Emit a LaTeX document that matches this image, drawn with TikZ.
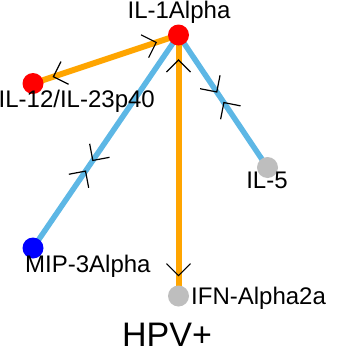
\documentclass[tikz,border=0pt]{standalone}
\usepackage{fontspec}
\setmainfont{Liberation Sans}
\usetikzlibrary{decorations.markings,backgrounds}
\definecolor{edgeorange}{RGB}{255,165,0}
\definecolor{edgeblue}{RGB}{93,183,229}
\definecolor{nodegray}{RGB}{190,190,190}
\tikzset{
  vert/.style={circle, inner sep=0pt, minimum size=21pt, draw=none},
  lab/.style={inner sep=0pt, font=\fontsize{24}{28}\selectfont},
  oedge/.style={draw=edgeorange, line width=6pt},
  bedge/.style={draw=edgeblue, line width=5.5pt},
  chev/.style={draw=black, line width=1.2pt},
  tostart/.style={postaction={decorate}, decoration={markings, mark=at position #1 with {\draw[chev] (12,12) -- (0,0) -- (12,-12);}}},
  toend/.style={postaction={decorate}, decoration={markings, mark=at position #1 with {\draw[chev] (-12,12) -- (0,0) -- (-12,-12);}}}
}
\begin{document}
\begin{tikzpicture}[x=1pt,y=-1pt]
\useasboundingbox (0,0) rectangle (341,351);
% nodes
\node[vert, fill=red] (A) at (178.5,35) {};
\node[vert, fill=red] (B) at (33,83.5) {};
\node[vert, fill=nodegray] (C) at (267.5,167.5) {};
\node[vert, fill=blue] (D) at (33,248) {};
\node[vert, fill=nodegray] (E) at (178.5,296) {};
% labels
\node[lab, anchor=base] (lA) at (179,18.5) {IL-1Alpha};
\node[lab, anchor=base west] (lB) at (-1.5,107) {IL-12/IL-23p40};
\node[lab, anchor=base] (lC) at (267,188.5) {IL-5};
\node[lab, anchor=base west] (lD) at (25,272) {MIP-3Alpha};
\node[lab, anchor=base west] (lE) at (191,304) {IFN-Alpha2a};
\node[inner sep=0pt, text depth=0pt, font=\fontsize{34}{40}\selectfont, anchor=base] (title) at (167,346.5) {HPV+};
% edges
\begin{scope}[on background layer]
  \draw[oedge] (A.center) -- (B.center);
  \draw[oedge] (A.center) -- (E.center);
  \draw[bedge] (A.center) -- (C.center);
  \draw[bedge] (A.center) -- (D.center);
\end{scope}
% arrow marks
\path[tostart=0.153] (A.center) -- (B.center);
\path[toend=0.86] (A.center) -- (B.center);
\path[tostart=0.096] (A.center) -- (E.center);
\path[toend=0.922] (A.center) -- (E.center);
\path[toend=0.43] (A.center) -- (C.center);
\path[tostart=0.51] (A.center) -- (C.center);
\path[toend=0.589] (A.center) -- (D.center);
\path[tostart=0.639] (A.center) -- (D.center);
\end{tikzpicture}
\end{document}
